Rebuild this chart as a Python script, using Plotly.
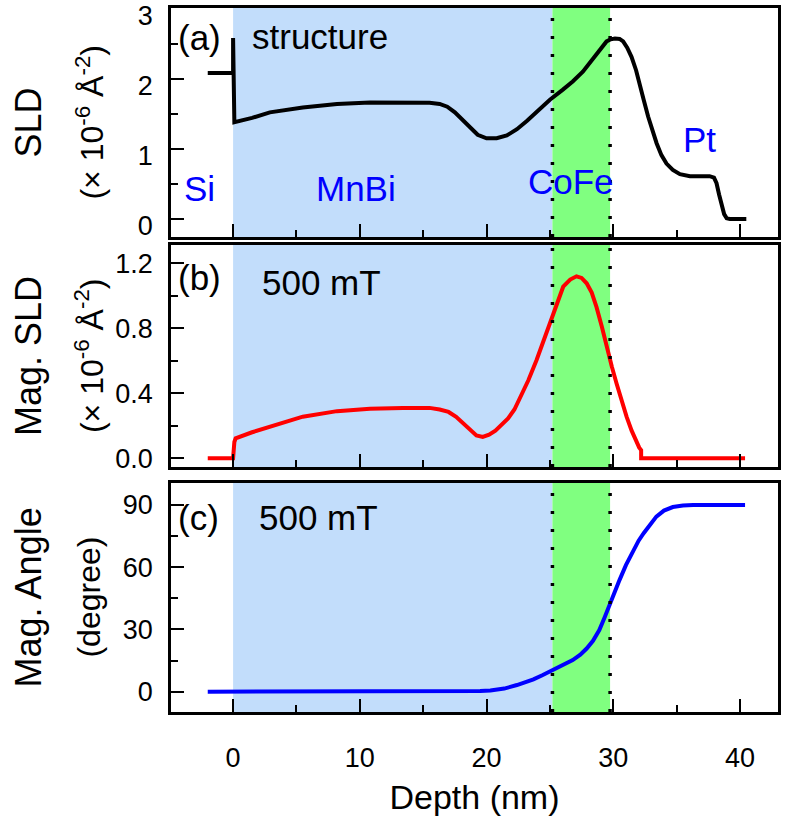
import plotly.graph_objects as go
from plotly.subplots import make_subplots

# ---------------- data ----------------
sld_depth = [-2.0, 0.0, 0.0, 0.1, 1.5, 2.9, 5.5, 8.2, 10.8, 13.4, 15.5, 16.3, 16.9, 17.5, 18.1,
             18.7, 19.3, 20.0, 20.8, 21.6, 22.4, 23.2, 24.1, 25.0, 26.0, 26.8, 27.6, 28.15,
             28.8, 29.47, 29.8, 30.13, 30.5, 30.78, 31.1, 31.44, 31.8, 32.1, 32.4, 32.75,
             33.1, 33.42, 33.8, 34.2, 34.7, 35.26, 36.05, 37.6, 37.95, 38.15, 38.35, 38.55,
             38.75, 38.95, 39.2, 40.5]
sld_val = [2.08, 2.08, 2.58, 1.38, 1.44, 1.52, 1.59, 1.64, 1.66, 1.66, 1.655, 1.64, 1.60, 1.52, 1.41,
           1.29, 1.20, 1.15, 1.15, 1.19, 1.28, 1.40, 1.55, 1.70, 1.84, 1.96, 2.10, 2.22,
           2.37, 2.53, 2.56, 2.57, 2.565, 2.53, 2.44, 2.31, 2.12, 1.93, 1.70, 1.46,
           1.26, 1.08, 0.91, 0.79, 0.70, 0.64, 0.61, 0.61, 0.59, 0.51, 0.35, 0.18,
           0.07, 0.01, 0.0, 0.0]

mag_depth = [-2.0, 0.0, 0.1, 0.2, 1.5, 2.9, 5.5, 8.2, 10.8, 13.4, 15.5, 16.3, 17.0, 17.6, 18.2,
             18.7, 19.2, 19.7, 20.2, 20.7, 21.2, 21.7, 22.2, 22.63, 23.3, 23.95, 24.6, 25.26,
             25.65, 26.05, 26.6, 27.1, 27.5, 27.9, 28.3, 28.68, 29.1, 29.47, 29.9, 30.26,
             30.65, 31.05, 31.45, 31.84, 32.05, 32.2, 32.2, 40.4]
mag_val = [0.0, 0.0, 0.10, 0.123, 0.16, 0.194, 0.256, 0.29, 0.305, 0.31, 0.31, 0.30, 0.285, 0.255,
           0.21, 0.17, 0.14, 0.131, 0.145, 0.17, 0.205, 0.245, 0.30, 0.37, 0.48, 0.605, 0.75,
           0.89, 0.98, 1.056, 1.10, 1.12, 1.11, 1.077, 1.02, 0.93, 0.81, 0.687, 0.56, 0.46,
           0.35, 0.256, 0.17, 0.092, 0.065, 0.05, 0.0, 0.0]

ang_depth = [-2.0, 16.3, 18.5, 19.5, 20.3, 21.4, 22.4, 23.1, 23.7, 24.4, 25.1, 26.0, 26.8,
             27.4, 27.9, 28.4, 28.9, 29.3, 29.7, 30.1, 30.5, 31.0, 31.6, 32.0, 32.4, 32.9,
             33.4, 34.0, 34.7, 35.5, 36.3, 40.4]
ang_val = [0.0, 0.0, 0.1, 0.3, 0.6, 1.5, 3.2, 4.5, 5.9, 7.9, 10.1, 12.6, 15.2, 17.8, 20.8,
           24.5, 29.7, 35.5, 42.0, 48.0, 53.9, 61.0, 68.3, 72.8, 76.4, 80.6, 84.4, 87.3,
           89.0, 89.7, 90.0, 90.0]

x_ticks = [0, 10, 20, 30, 40]
ya_ticks = [0, 1, 2, 3]
yb_ticks = [0.0, 0.4, 0.8, 1.2]
yc_ticks = [0, 30, 60, 90]

mnbi_range = [0.0, 25.2]
cofe_range = [25.2, 29.75]

FONT = "Liberation Sans, Arial, sans-serif"

fig = make_subplots(rows=3, cols=1, shared_xaxes=True)

fig.add_trace(go.Scatter(x=sld_depth, y=sld_val, mode="lines",
                         line=dict(color="black", width=4), showlegend=False), row=1, col=1)
fig.add_trace(go.Scatter(x=mag_depth, y=mag_val, mode="lines",
                         line=dict(color="#ff0000", width=4), showlegend=False), row=2, col=1)
fig.add_trace(go.Scatter(x=ang_depth, y=ang_val, mode="lines",
                         line=dict(color="#0000ff", width=4), showlegend=False), row=3, col=1)

domains = [[0.6747, 1.0], [0.348, 0.6634], [0.0, 0.3253]]
yranges = [[-0.256, 3.006], [-0.054, 1.313], [-9.8, 100.6]]
yticks = [ya_ticks, yb_ticks, yc_ticks]
yminor = [0.5, 0.2, 15]
yfmt = ["d", ".1f", "d"]
yshift = [7, 0, 0]

axis_common = dict(showline=True, linewidth=2.5, linecolor="black", mirror=True,
                   showgrid=False, zeroline=False, ticks="inside", ticklen=13,
                   tickwidth=2, tickcolor="black", ticklabeloverflow="allow",
                   automargin=False,
                   tickfont=dict(family=FONT, size=27, color="black"))

for i in range(3):
    r = i + 1
    fig.update_yaxes(row=r, col=1, domain=domains[i], range=yranges[i],
                     tickmode="array", tickvals=yticks[i], tickformat=yfmt[i],
                     minor=dict(dtick=yminor[i], tick0=0, ticks="inside", ticklen=7,
                                tickwidth=2, tickcolor="black", showgrid=False),
                     ticklabelstandoff=10, ticklabelshift=yshift[i], **axis_common)
    fig.update_xaxes(row=r, col=1, range=[-4.9, 43.0],
                     tickmode="array", tickvals=x_ticks,
                     minor=dict(dtick=5, tick0=0, ticks="inside", ticklen=7,
                                tickwidth=2, tickcolor="black", showgrid=False),
                     showticklabels=(r == 3), ticklabelstandoff=20, **axis_common)

fig.update_xaxes(row=3, col=1, title=dict(text="Depth (nm)", standoff=14,
                                          font=dict(family=FONT, size=34, color="black")))

shapes = []
for i, (xr, yr) in enumerate([("x", "y"), ("x2", "y2"), ("x3", "y3")]):
    shapes.append(dict(type="rect", xref=xr, yref=yr + " domain", x0=mnbi_range[0], x1=mnbi_range[1],
                       y0=0, y1=1, fillcolor="rgb(194,221,251)", line=dict(width=0), layer="below"))
    shapes.append(dict(type="rect", xref=xr, yref=yr + " domain", x0=cofe_range[0], x1=cofe_range[1],
                       y0=0, y1=1, fillcolor="rgb(128,255,128)", line=dict(width=0), layer="below"))
    for xv in cofe_range:
        shapes.append(dict(type="line", xref=xr, yref=yr + " domain", x0=xv, x1=xv, y0=0, y1=1,
                           line=dict(color="black", width=3.5, dash="3px,15px"), layer="above"))

ann = []
def label(text, x, y, xr, yr, color="black", size=35, xanchor="left"):
    ann.append(dict(text=text, x=x, y=y, xref=xr, yref=yr, showarrow=False, xanchor=xanchor,
                    yanchor="middle", font=dict(family=FONT, size=size, color=color)))

label("(a)", -4.5, 2.59, "x", "y")
label("structure", 1.3, 2.6, "x", "y")
label("Si", -4.0, 0.44, "x", "y", color="#0000ff")
label("MnBi", 9.7, 0.44, "x", "y", color="#0000ff", xanchor="center")
label("CoFe", 26.7, 0.54, "x", "y", color="#0000ff", xanchor="center")
label("Pt", 36.8, 1.13, "x", "y", color="#0000ff", xanchor="center")
label("(b)", -4.5, 1.11, "x2", "y2")
label("500 mT", 2.1, 1.08, "x2", "y2")
label("(c)", -4.5, 84, "x3", "y3")
label("500 mT", 1.9, 84, "x3", "y3")

titles1 = ["SLD", "Mag. SLD", "Mag. Angle"]
titles2 = ["(× 10<sup>-6</sup> Å<sup>-2</sup>)", "(× 10<sup>-6</sup> Å<sup>-2</sup>)", "(degree)"]
for i in range(3):
    yc = (domains[i][0] + domains[i][1]) / 2
    ann.append(dict(text=titles1[i], x=-0.234, y=yc, xref="paper", yref="paper", showarrow=False,
                    textangle=-90, xanchor="center", yanchor="middle",
                    font=dict(family=FONT, size=36, color="black")))
    ann.append(dict(text=titles2[i], x=-0.135, y=yc, xref="paper", yref="paper", showarrow=False,
                    textangle=-90, xanchor="center", yanchor="middle",
                    font=dict(family=FONT, size=32, color="black")))

fig.update_layout(width=804, height=819, margin=dict(l=171, r=26, t=8, b=107, autoexpand=False),
                  paper_bgcolor="white", plot_bgcolor="white",
                  shapes=shapes, annotations=ann, showlegend=False,
                  font=dict(family=FONT, color="black"))

fig.write_html("out.html")
